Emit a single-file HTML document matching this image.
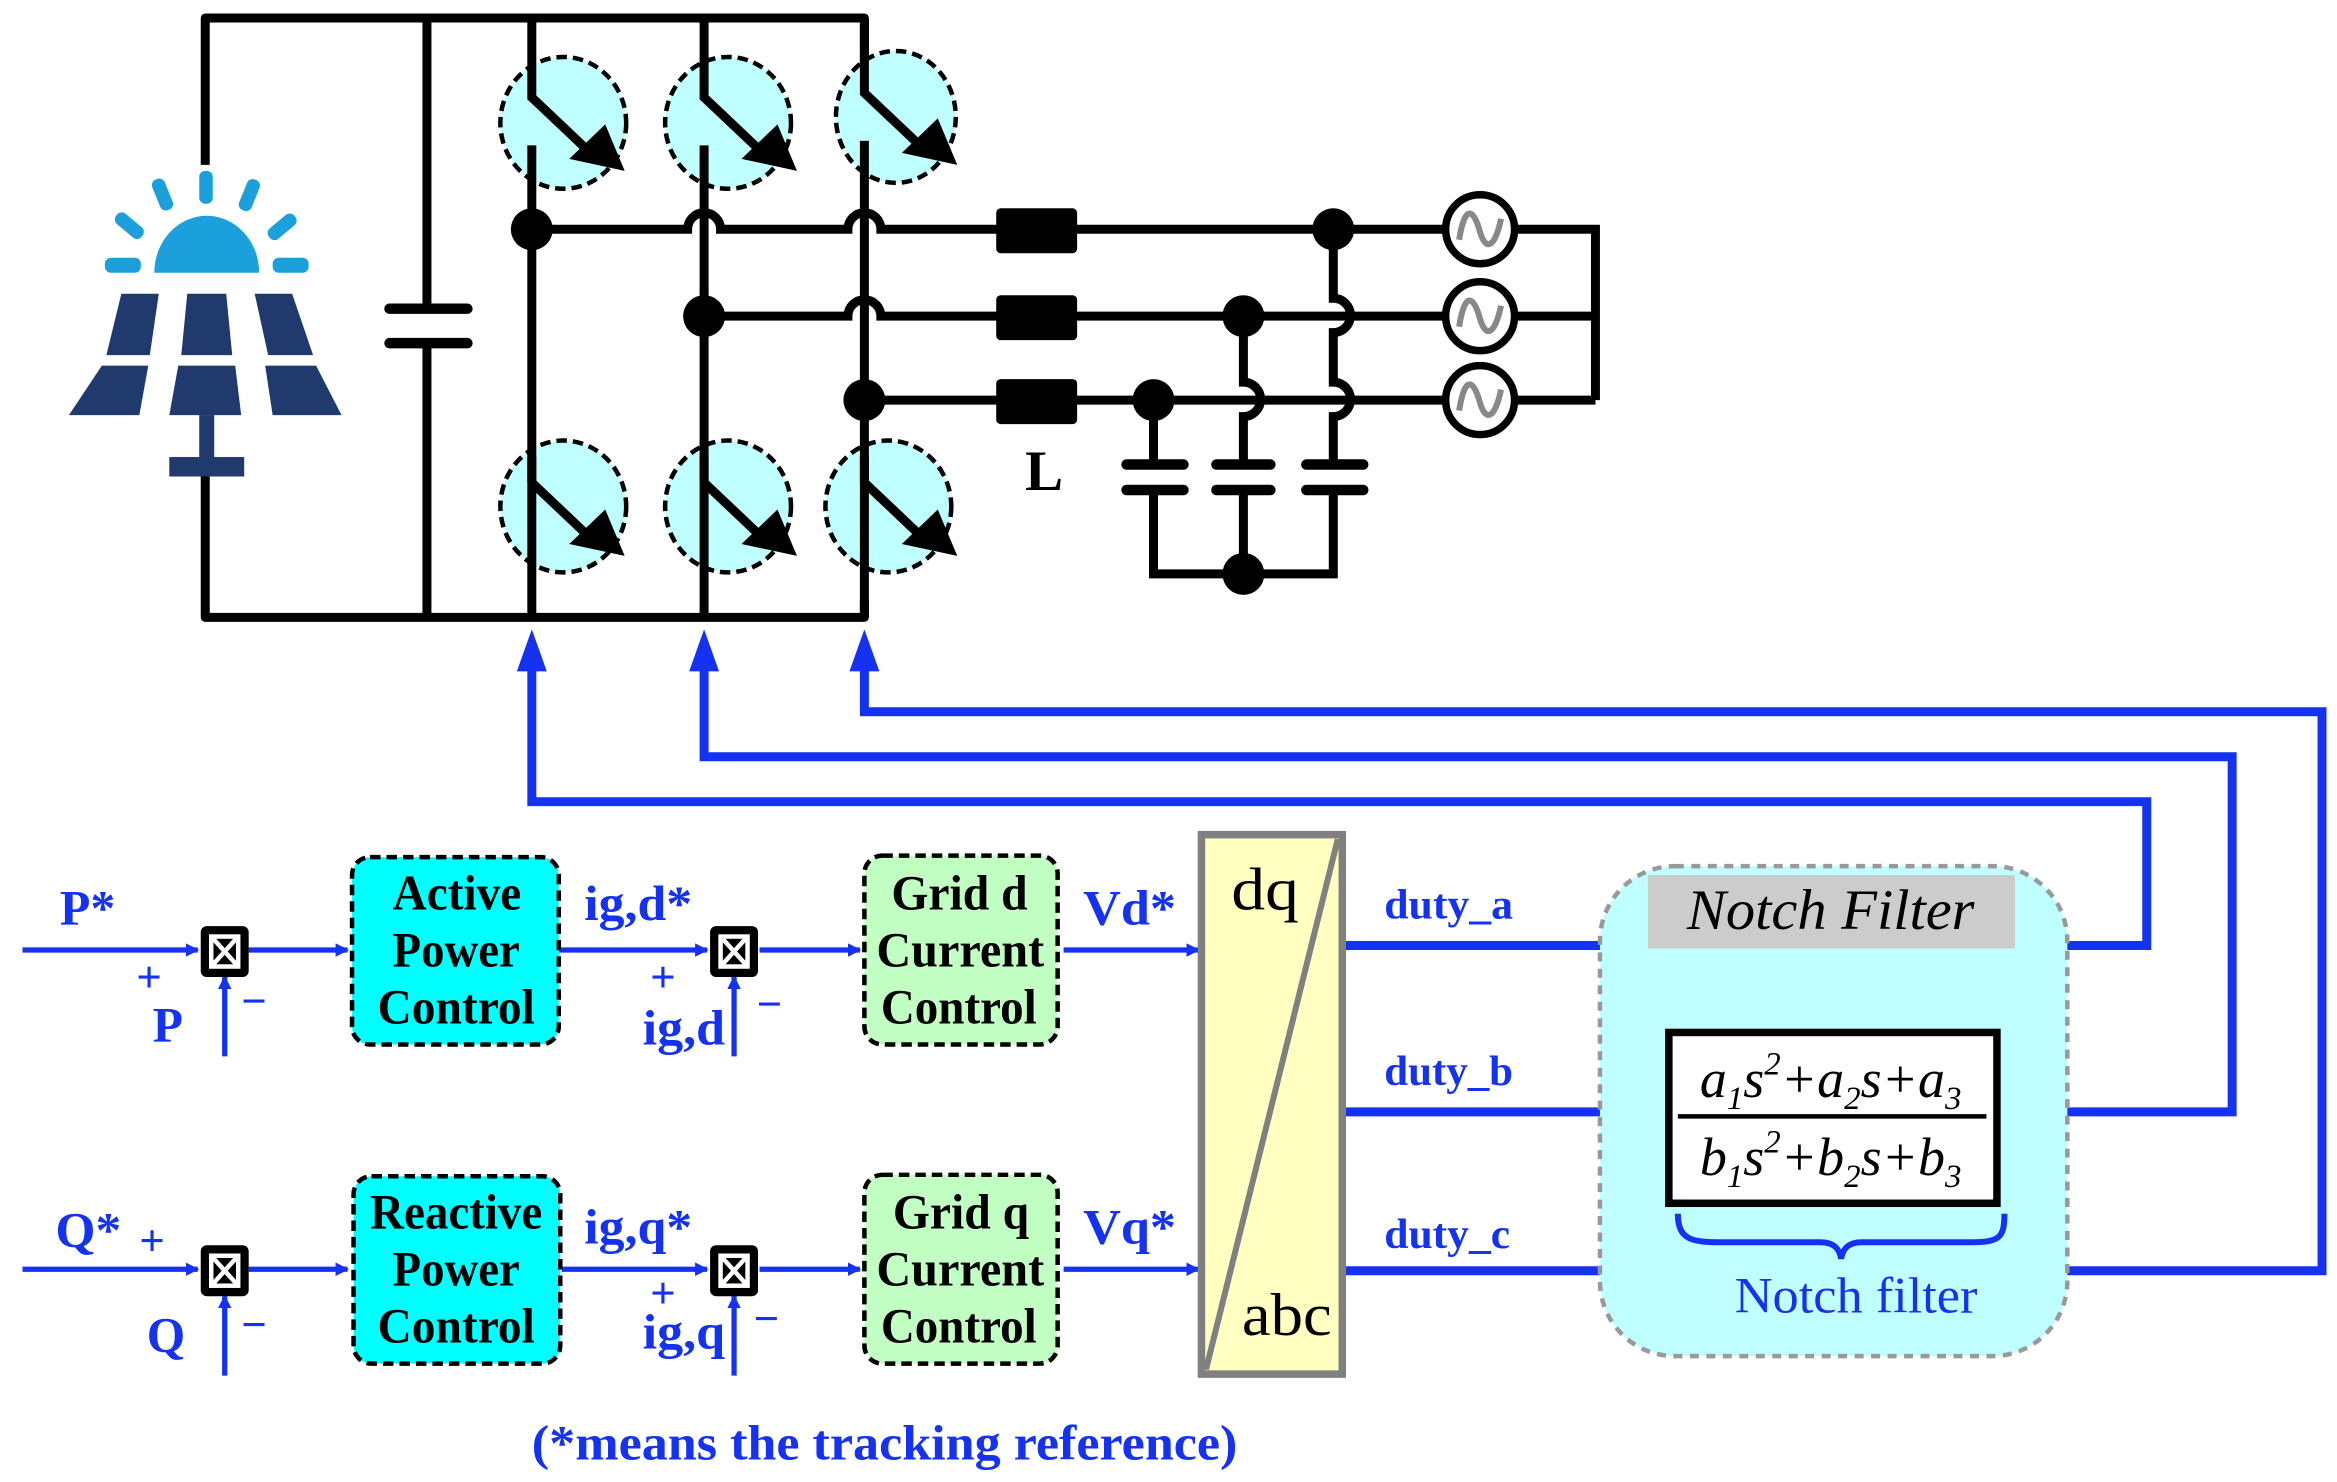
<!DOCTYPE html>
<html><head><meta charset="utf-8"><style>
html,body{margin:0;padding:0;background:#fff}
svg{display:block}
text{font-family:"Liberation Serif",serif}
.b{fill:#1432f0;font-weight:bold}
.k{fill:#000;font-weight:bold}
</style></head><body>
<svg width="2337" height="1482" viewBox="0 0 1560 989" preserveAspectRatio="none" xmlns="http://www.w3.org/2000/svg">
<defs>
<marker id="ab" markerWidth="9" markerHeight="9" refX="8" refY="4.5" orient="auto" markerUnits="userSpaceOnUse" viewBox="0 0 9 9"><path d="M0,0 L9,4.5 L0,9z" fill="#1432f0"/></marker>
</defs>
<g fill="#1ba0dc">
<path d="M103,182 A35,38 0 0 1 173,182 Z"/>
<rect x="133" y="114" width="9" height="22" rx="4"/>
<rect x="104" y="119" width="9" height="22" rx="4" transform="rotate(-22 108 130)"/>
<rect x="162" y="119" width="9" height="22" rx="4" transform="rotate(22 166 130)"/>
<rect x="82" y="140" width="9" height="22" rx="4" transform="rotate(-50 86 151)"/>
<rect x="184" y="140" width="9" height="22" rx="4" transform="rotate(50 188 151)"/>
<rect x="70" y="172" width="24" height="10" rx="4"/>
<rect x="182" y="172" width="24" height="10" rx="4"/>
</g>
<g fill="#213a6e">
<path d="M81,196 H106 L100,237 H71 Z"/><path d="M125,196 H151 L155,237 H121 Z"/><path d="M170,196 H195 L209,237 H179 Z"/>
<path d="M68,244 H99 L93,277 H46 Z"/><path d="M119,244 H157 L161,277 H113 Z"/><path d="M177,244 H211 L228,277 H182 Z"/>
<rect x="133" y="277" width="10" height="32"/><rect x="113" y="305" width="50" height="13"/>
</g>
<g fill="none" stroke="#000" stroke-width="6" stroke-linejoin="round">
<path d="M137,110 V12 H577 V60"/>
<path d="M137,318 V412 H577 V400"/>
<path d="M285,12 V205 M285,230 V412"/>
</g>
<g stroke="#000" stroke-width="7" stroke-linecap="round"><line x1="260" y1="206" x2="312" y2="206"/><line x1="260" y1="229" x2="312" y2="229"/></g>
<g fill="#bfffff" stroke="#000" stroke-width="3" stroke-dasharray="7,4">
<ellipse cx="376" cy="82" rx="42" ry="44"/><ellipse cx="486" cy="82" rx="42" ry="44"/><ellipse cx="598" cy="78" rx="40" ry="44"/>
<ellipse cx="376" cy="338" rx="42" ry="44"/><ellipse cx="486" cy="338" rx="42" ry="44"/><ellipse cx="593" cy="338" rx="42" ry="44"/>
</g>
<g fill="none" stroke="#000" stroke-width="6">
<path d="M355,12 V65 L392,100"/><path d="M355,97 V412"/>
<path d="M470,12 V65 L507,100"/><path d="M470,97 V412"/>
<path d="M577,12 V62 L614,97"/><path d="M577,94 V412"/>
</g>
<g fill="#000">
<path d="M380,106 L404,83 L417,114 Z"/><path d="M495,106 L519,83 L532,114 Z"/><path d="M602,102 L626,79 L639,110 Z"/>
</g>
<g fill="none" stroke="#000" stroke-width="6">
<path d="M355,322 L392,357"/><path d="M470,322 L507,357"/><path d="M577,322 L614,357"/>
<path d="M355,305 V322 M470,305 V322 M577,305 V322"/>
</g>
<g fill="#000"><path d="M380,363 L404,340 L417,371 Z"/><path d="M495,363 L519,340 L532,371 Z"/><path d="M602,363 L626,340 L639,371 Z"/></g>
<g fill="none" stroke="#000" stroke-width="6">
<path d="M355,153 H459 A11,11 0 0 1 481,153 H566 A11,11 0 0 1 588,153 H1065 V267"/>
<path d="M470,211 H566 A11,11 0 0 1 588,211 H1065"/>
<path d="M577,267 H1065"/>
<path d="M770,267 V310 M770,327 V383 H890 V327"/>
<path d="M830,211 V255 A11,11 0 0 1 830,278 V310 M830,327 V383"/>
<path d="M890,153 V199 A11,11 0 0 1 890,222 V255 A11,11 0 0 1 890,278 V310"/>
</g>
<g stroke="#000" stroke-width="7" stroke-linecap="round">
<line x1="752" y1="310" x2="790" y2="310"/><line x1="752" y1="327" x2="790" y2="327"/>
<line x1="812" y1="310" x2="848" y2="310"/><line x1="812" y1="327" x2="848" y2="327"/>
<line x1="872" y1="310" x2="910" y2="310"/><line x1="872" y1="327" x2="910" y2="327"/>
</g>
<g fill="#000">
<circle cx="355" cy="153" r="14"/><circle cx="470" cy="211" r="14"/><circle cx="577" cy="267" r="14"/>
<circle cx="890" cy="153" r="14"/><circle cx="830" cy="211" r="14"/><circle cx="770" cy="267" r="14"/><circle cx="830" cy="383" r="14"/>
<rect x="665" y="139" width="54" height="30" rx="3"/><rect x="665" y="197" width="54" height="30" rx="3"/><rect x="665" y="253" width="54" height="30" rx="3"/>
</g>
<text x="697" y="327" class="k" font-size="38" text-anchor="middle">L</text>
<g fill="#fff" stroke="#000" stroke-width="5">
<circle cx="988" cy="153" r="23"/><circle cx="988" cy="211" r="23"/><circle cx="988" cy="267" r="23"/>
</g>
<g fill="none" stroke="#888" stroke-width="4">
<path d="M974,160 C978,135 984,140 988,155 C992,168 998,165 1002,146"/>
<path d="M974,218 C978,193 984,198 988,213 C992,226 998,223 1002,204"/>
<path d="M974,274 C978,249 984,254 988,269 C992,282 998,279 1002,260"/>
</g>
<g fill="none" stroke="#1432f0" stroke-width="6">
<path d="M355,440 V535 H1433 V631 H1378"/>
<path d="M470,440 V505 H1490 V742 H1378"/>
<path d="M577,440 V475 H1550 V848 H1378"/>
<path d="M896,631 H1070 M896,742 H1070 M896,848 H1070"/>
</g>
<g fill="#1432f0"><path d="M345,448 L355,420 L365,448 Z"/><path d="M460,448 L470,420 L480,448 Z"/><path d="M567,448 L577,420 L587,448 Z"/></g>
<g fill="none" stroke="#1432f0" stroke-width="3.5" marker-end="url(#ab)">
<path d="M15,634 H132"/><path d="M166,634 H232"/><path d="M373,634 H472"/><path d="M507,634 H574"/><path d="M710,634 H800"/>
<path d="M15,847 H132"/><path d="M166,847 H232"/><path d="M375,847 H472"/><path d="M507,847 H574"/><path d="M710,847 H800"/>
<path d="M150,705 V652"/><path d="M490,705 V652"/><path d="M150,918 V865"/><path d="M490,918 V865"/>
</g>
<g>
<rect x="134" y="618" width="32" height="34" rx="4" fill="#000"/><rect x="474" y="618" width="32" height="34" rx="4" fill="#000"/>
<rect x="134" y="831" width="32" height="34" rx="4" fill="#000"/><rect x="474" y="831" width="32" height="34" rx="4" fill="#000"/>
<g fill="none" stroke="#fff" stroke-width="3">
<rect x="141" y="625" width="18" height="20"/><path d="M141,625 L159,645 M159,625 L141,645"/>
<rect x="481" y="625" width="18" height="20"/><path d="M481,625 L499,645 M499,625 L481,645"/>
<rect x="141" y="838" width="18" height="20"/><path d="M141,838 L159,858 M159,838 L141,858"/>
<rect x="481" y="838" width="18" height="20"/><path d="M481,838 L499,858 M499,838 L481,858"/>
</g></g>
<g stroke="#000" stroke-width="3" stroke-dasharray="7,4">
<rect x="235" y="572" width="138" height="125" rx="12" fill="#00ffff"/>
<rect x="236" y="785" width="138" height="125" rx="12" fill="#00ffff"/>
<rect x="577" y="571" width="129" height="126" rx="12" fill="#c2ffc2"/>
<rect x="577" y="784" width="129" height="126" rx="12" fill="#c2ffc2"/>
</g>
<g class="k" font-size="33" lengthAdjust="spacingAndGlyphs">
<text x="262" y="607" textLength="86" lengthAdjust="spacingAndGlyphs">Active</text>
<text x="262" y="645" textLength="85" lengthAdjust="spacingAndGlyphs">Power</text>
<text x="252" y="683" textLength="105" lengthAdjust="spacingAndGlyphs">Control</text>
<text x="247" y="820" textLength="115" lengthAdjust="spacingAndGlyphs">Reactive</text>
<text x="262" y="858" textLength="85" lengthAdjust="spacingAndGlyphs">Power</text>
<text x="252" y="896" textLength="105" lengthAdjust="spacingAndGlyphs">Control</text>
<text x="595" y="607" textLength="91" lengthAdjust="spacingAndGlyphs">Grid d</text>
<text x="585" y="645" textLength="112" lengthAdjust="spacingAndGlyphs">Current</text>
<text x="588" y="683" textLength="104" lengthAdjust="spacingAndGlyphs">Control</text>
<text x="596" y="820" textLength="91" lengthAdjust="spacingAndGlyphs">Grid q</text>
<text x="585" y="858" textLength="112" lengthAdjust="spacingAndGlyphs">Current</text>
<text x="588" y="896" textLength="104" lengthAdjust="spacingAndGlyphs">Control</text>
</g>
<g class="b" font-size="33">
<text x="40" y="617" textLength="37" lengthAdjust="spacingAndGlyphs">P*</text><text x="102" y="695">P</text>
<text x="37" y="832" textLength="44" lengthAdjust="spacingAndGlyphs">Q*</text><text x="98" y="902">Q</text>
<text x="390" y="614" textLength="72" lengthAdjust="spacingAndGlyphs">ig,d*</text><text x="429" y="697" textLength="55" lengthAdjust="spacingAndGlyphs">ig,d</text>
<text x="390" y="830" textLength="72" lengthAdjust="spacingAndGlyphs">ig,q*</text><text x="429" y="900" textLength="55" lengthAdjust="spacingAndGlyphs">ig,q</text>
<text x="723" y="617" textLength="62" lengthAdjust="spacingAndGlyphs">Vd*</text><text x="723" y="830" textLength="62" lengthAdjust="spacingAndGlyphs">Vq*</text>
</g>
<g class="b" font-size="30">
<text x="91" y="662">+</text><text x="434" y="662">+</text><text x="93" y="838">+</text><text x="434" y="873">+</text>
<text x="161" y="678">−</text><text x="505" y="680">−</text><text x="161" y="894">−</text><text x="503" y="890">−</text>
</g>
<rect x="802" y="557" width="94" height="360" fill="#ffffc2" stroke="#808080" stroke-width="5"/>
<line x1="805" y1="914" x2="893" y2="560" stroke="#808080" stroke-width="4"/>
<text x="822" y="607" font-size="40" textLength="45" lengthAdjust="spacingAndGlyphs">dq</text>
<text x="829" y="891" font-size="40" textLength="60" lengthAdjust="spacingAndGlyphs">abc</text>
<g class="b" font-size="28">
<text x="924" y="613" textLength="86" lengthAdjust="spacingAndGlyphs">duty_a</text>
<text x="924" y="724" textLength="86" lengthAdjust="spacingAndGlyphs">duty_b</text>
<text x="924" y="833" textLength="84" lengthAdjust="spacingAndGlyphs">duty_c</text>
</g>
<rect x="1068" y="578" width="312" height="327" rx="50" fill="#bfffff" stroke="#999" stroke-width="3" stroke-dasharray="6,5"/>
<rect x="1100" y="584" width="245" height="49" fill="#cccccc"/>
<text x="1126" y="620" font-size="38" font-style="italic" textLength="192" lengthAdjust="spacingAndGlyphs">Notch Filter</text>
<rect x="1114" y="689" width="219" height="114" fill="#fff" stroke="#000" stroke-width="5"/>
<line x1="1120" y1="745" x2="1326" y2="745" stroke="#000" stroke-width="3"/>
<g font-size="36" font-style="italic" text-anchor="middle">
<text x="1222" y="732">a<tspan font-size="22" dy="8">1</tspan><tspan dy="-8">s</tspan><tspan font-size="22" dy="-15">2</tspan><tspan dy="15">+a</tspan><tspan font-size="22" dy="8">2</tspan><tspan dy="-8">s+a</tspan><tspan font-size="22" dy="8">3</tspan></text>
<text x="1222" y="784">b<tspan font-size="22" dy="8">1</tspan><tspan dy="-8">s</tspan><tspan font-size="22" dy="-15">2</tspan><tspan dy="15">+b</tspan><tspan font-size="22" dy="8">2</tspan><tspan dy="-8">s+b</tspan><tspan font-size="22" dy="8">3</tspan></text>
</g>
<path d="M1120,810 C1120,828 1130,829 1150,829 H1215 C1225,829 1228,834 1229,840 C1230,834 1233,829 1243,829 H1315 C1335,829 1338,826 1338,810" fill="none" stroke="#1432f0" stroke-width="4"/>
<text x="1158" y="876" font-size="34" fill="#1432f0" textLength="162" lengthAdjust="spacingAndGlyphs">Notch filter</text>
<text x="355" y="974" class="b" font-size="33" textLength="471" lengthAdjust="spacingAndGlyphs">(*means the tracking reference)</text>
</svg>
</body></html>
